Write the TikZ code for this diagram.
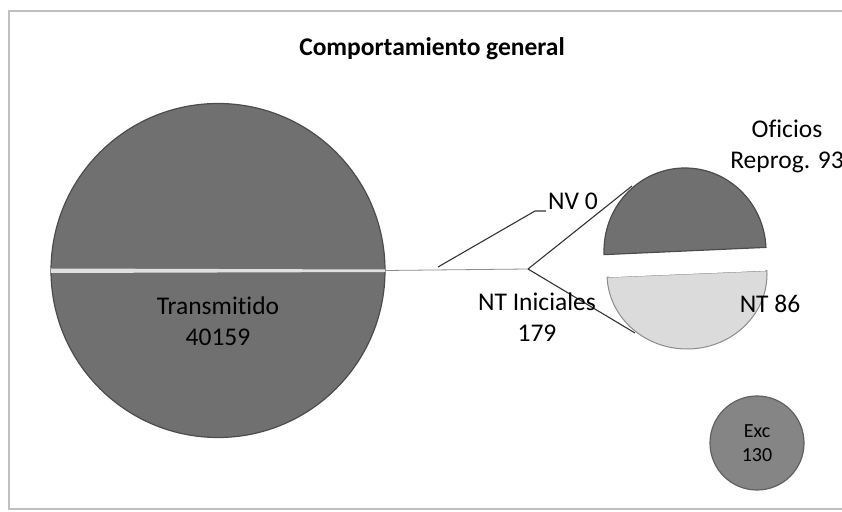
\documentclass[tikz,border=0pt]{standalone}
\usepackage{fontspec}
\setmainfont{Carlito}[Ligatures=NoCommon]
\begin{document}
\begin{tikzpicture}[x=1pt,y=1pt,
  frame/.style={draw=black!25,line width=1.2pt},
  slicedark/.style={fill=black!56,draw=black!70,line width=1.2pt},
  slicelight/.style={fill=black!14,draw=black!45,line width=1pt},
  sliceexc/.style={fill=black!48,draw=black!62,line width=1.2pt},
  leader/.style={draw=black!80,line width=1.1pt},
  lbl/.style={font=\fontsize{25.5}{31}\selectfont,align=center,inner sep=0pt},
  lblsmall/.style={font=\fontsize{20}{24}\selectfont,align=center,inner sep=0pt},
  title/.style={font=\fontsize{25.5}{30}\selectfont\bfseries,inner sep=0pt}]
\useasboundingbox (0,0) rectangle (842,511);
% chart frame
\draw[frame] (860,500) -- (9,500) -- (9,2) -- (860,2);
% title
\node[title] (title) at (432,462) {Comportamiento general};
% big pie
\coordinate (bigc) at (218,240.5);
\fill[black!56] (bigc) circle[radius=167];
\draw[black!70,line width=1.2pt] (bigc) circle[radius=167];
\fill[black!12] (51,238) -- (385,239) -- (385,241.5) -- (51,242.5) -- cycle;
\coordinate (bigr) at (385,240.5);
\coordinate (split) at (528,242);
\draw[draw=black!45,line width=0.8pt] (bigr) -- (split);
% small pie upper half
\draw[slicedark] (685,260) ++(2.5:81 and 83) arc[start angle=2.5,end angle=182.5,x radius=81,y radius=83] -- cycle;
% small pie lower half
\draw[slicelight] (687,237) ++(182.5:80 and 75) arc[start angle=182.5,end angle=362.5,x radius=80,y radius=75] -- cycle;
\draw[white,line width=2.5pt] (609,235) -- (765,241.5);
% exc
\node[sliceexc,circle,minimum size=94pt,inner sep=0pt] (exc) at (757,68) {};
% connectors
\coordinate (uptop) at (632,325);
\coordinate (lowbot) at (635,178);
\draw[leader] (split) -- (uptop);
\draw[leader] (split) -- (lowbot);
\coordinate (nvA) at (438,244);
\coordinate (nvB) at (535,300);
\coordinate (nvC) at (546,300);
\draw[leader] (nvA) -- (nvB) -- (nvC);
% labels
\node[lbl] (trans) at (218,190) {Transmitido\\40159};
\node[lbl,anchor=west] (nv) at (548,310) {NV 0};
\node[lbl] (nti) at (537,194) {NT Iniciales\\179};
\node[lbl] (ofi) at (787,365) {Oficios\\Reprog. 93};
\node[lbl] (nt86) at (770,207) {NT 86};
\node[lblsmall] (exct) at (exc) {Exc\\130};
\end{tikzpicture}
\end{document}
